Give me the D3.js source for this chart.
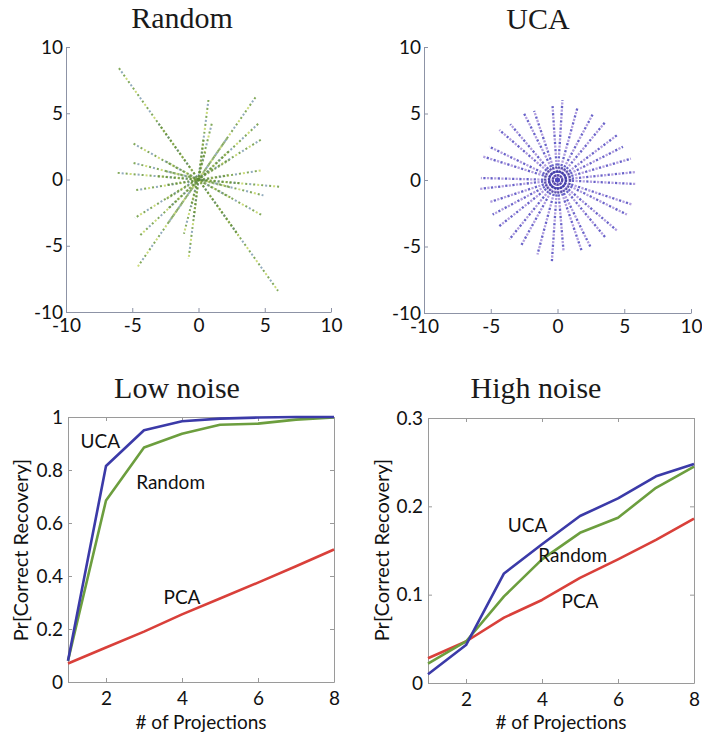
<!DOCTYPE html>
<html>
<head>
<meta charset="utf-8">
<script src="https://cdn.jsdelivr.net/npm/d3@7"></script>
<style>
  body { margin: 0; background: #fff; }
  svg { display: block; }
  .tick text { font-family: Lato, "Open Sans", sans-serif; fill: #111; }
</style>
</head>
<body>
<div id="fig"></div>
<script>
// scatter panels: spokes of sample points (endpoints)
var randomSpokes = [
  [-6.0, 8.4, 6.0, -8.4],
  [0.75, 6.0, -0.75, -6.0],
  [4.3, 6.2, -4.6, -6.6],
  [4.5, 4.2, -4.5, -4.3],
  [4.7, 3.0, -4.8, -2.9],
  [-4.9, 2.7, 4.8, -2.7],
  [-4.9, 1.25, 4.9, -1.2],
  [-6.1, 0.5, 6.2, -0.55],
  [-4.7, -0.8, 4.8, 0.7],
  [1.0, 4.2, -1.1, -4.1]
];
var ucaSpokes = [
  [0.37, 6.0], [1.5, 5.46], [2.67, 5.0], [3.6, 4.39], [4.5, 3.4], [4.9, 2.5],
  [5.5, 1.6], [5.86, 0.6], [5.86, -0.3], [5.6, -1.85], [5.2, -2.6], [4.5, -3.84],
  [3.6, -4.34], [2.5, -5.1], [1.8, -5.3], [0.45, -5.34], [-0.42, -6.1], [-1.5, -5.6],
  [-2.74, -4.96], [-3.6, -4.46], [-4.36, -3.47], [-4.86, -2.6], [-5.1, -1.67],
  [-5.86, -0.67], [-5.74, 0.15], [-5.6, 1.77], [-5.1, 2.5], [-4.36, 3.77],
  [-3.54, 4.2], [-2.5, 5.0], [-1.75, 5.2], [-0.37, 5.56]
];
var ucaRings = [0.35, 0.65, 0.95];
var scatterTicks = [-10, -5, 0, 5, 10];

// recovery curves
var projections = [1, 2, 3, 4, 5, 6, 7, 8];
var lowUCA    = [0.08, 0.815, 0.95, 0.984, 0.994, 0.998, 1.0, 1.0];
var lowRandom = [0.08, 0.685, 0.885, 0.937, 0.971, 0.975, 0.99, 0.998];
var lowPCA    = [0.07, 0.13, 0.19, 0.255, 0.315, 0.375, 0.437, 0.5];
var highUCA    = [0.01, 0.043, 0.124, 0.157, 0.189, 0.209, 0.234, 0.248];
var highRandom = [0.022, 0.047, 0.098, 0.14, 0.17, 0.187, 0.221, 0.245];
var highPCA    = [0.028, 0.047, 0.074, 0.094, 0.119, 0.14, 0.162, 0.186];
var seriesNames = ["UCA", "Random", "PCA"];
var lowTicksY = [0, 0.2, 0.4, 0.6, 0.8, 1];
var highTicksY = [0, 0.1, 0.2, 0.3];
var projTicks = [2, 4, 6, 8];
// label anchors in data units
var lowLabels = [[1.85, 0.91], [3.7, 0.755], [4.0, 0.32]];
var highLabels = [[3.62, 0.179], [4.81, 0.144], [5.0, 0.092]];

var colors = { UCA: "#3b3aa8", Random: "#6c9e3e", PCA: "#d9403a" };

// plain hyphen minus, like the original
var fmt = function(d) { return String(d); };

var W = 702, H = 735;
var svg = d3.select("#fig").append("svg")
  .attr("width", W)
  .attr("height", H);

function title(x, y, t) {
  svg.append("text")
    .attr("x", x).attr("y", y)
    .attr("text-anchor", "middle")
    .attr("font-family", "Liberation Serif, Times New Roman, serif")
    .style("font-size", "30px")
    .attr("fill", "#1a1a1a")
    .text(t);
}

function scatterAxes(x, y) {
  var g = svg.append("g");
  var ax = g.append("g")
    .attr("transform", "translate(0," + y.range()[0] + ")")
    .call(d3.axisBottom(x).tickValues(scatterTicks).tickFormat(fmt).tickSize(-4).tickSizeOuter(0).tickPadding(7));
  var ay = g.append("g")
    .attr("transform", "translate(" + x.range()[0] + ",0)")
    .call(d3.axisLeft(y).tickValues(scatterTicks).tickFormat(fmt).tickSize(-4).tickSizeOuter(0).tickPadding(3));
  [ax, ay].forEach(function(a) {
    a.select(".domain").attr("stroke", "#8d93a6");
    a.selectAll(".tick line").attr("stroke", "#8d93a6");
    a.selectAll(".tick text").style("font-size", "19px");
  });
}

// ---- Random scatter ----
var xr = d3.scaleLinear().domain([-10, 10]).range([66, 331]);
var yr = d3.scaleLinear().domain([-10, 10]).range([312, 47]);
title(182, 28, "Random");
scatterAxes(xr, yr);

var rg = svg.append("g");
var dotStyles = [
  { c: "#6d9b3f", dash: "2 6", off: 0 },
  { c: "#c3d665", dash: "2 14", off: 4 },
  { c: "#7f9db3", dash: "2 14", off: 12 }
];
dotStyles.forEach(function(s) {
  rg.selectAll(null)
    .data(randomSpokes)
    .enter()
    .append("line")
    .attr("x1", function(d) { return xr(d[0]); })
    .attr("y1", function(d) { return yr(d[1]); })
    .attr("x2", function(d) { return xr(d[2]); })
    .attr("y2", function(d) { return yr(d[3]); })
    .attr("stroke", s.c)
    .attr("stroke-width", 2)
    .attr("stroke-dasharray", s.dash)
    .attr("stroke-dashoffset", s.off)
    .attr("opacity", 0.85);
});
// denser cloud close to the origin
rg.selectAll(null)
  .data(randomSpokes)
  .enter()
  .append("line")
  .attr("x1", function(d) { return xr(d[0] * 0.5); })
  .attr("y1", function(d) { return yr(d[1] * 0.5); })
  .attr("x2", function(d) { return xr(d[2] * 0.5); })
  .attr("y2", function(d) { return yr(d[3] * 0.5); })
  .attr("stroke", "#5d8a32")
  .attr("stroke-width", 2.2)
  .attr("stroke-dasharray", "2 2")
  .attr("opacity", 0.65);

// ---- UCA scatter ----
var xu = d3.scaleLinear().domain([-10, 10]).range([424, 691]);
var yu = d3.scaleLinear().domain([-10, 10]).range([313, 47]);
title(538, 29, "UCA");
scatterAxes(xu, yu);

var ug = svg.append("g");
[{ c: "#5048c0", off: 0 }, { c: "#a690dc", off: 3.6 }].forEach(function(s) {
  ug.selectAll(null)
    .data(ucaSpokes)
    .enter()
    .append("line")
    .attr("x1", xu(0))
    .attr("y1", yu(0))
    .attr("x2", function(d) { return xu(d[0]); })
    .attr("y2", function(d) { return yu(d[1]); })
    .attr("stroke", s.c)
    .attr("stroke-width", 2.3)
    .attr("stroke-dasharray", "2.2 5")
    .attr("stroke-dashoffset", s.off)
    .attr("opacity", 0.85);
});
ug.selectAll(null)
  .data(ucaRings)
  .enter()
  .append("circle")
  .attr("cx", xu(0))
  .attr("cy", yu(0))
  .attr("r", function(d) { return xu(d) - xu(0); })
  .attr("fill", "none")
  .attr("stroke", "#3c3698")
  .attr("stroke-width", 2.2)
  .attr("stroke-dasharray", "2 1")
  .attr("opacity", 0.8);

// ---- recovery panels ----
function curvePanel(opt) {
  var x = d3.scaleLinear().domain([1, 8]).range(opt.xr);
  var y = d3.scaleLinear().domain(opt.yd).range(opt.yr);
  var g = svg.append("g");

  title(opt.tx, 398, opt.title);

  var axes = [
    g.append("g").attr("transform", "translate(0," + y.range()[0] + ")")
      .call(d3.axisBottom(x).tickValues(projTicks).tickFormat(fmt).tickSize(-4).tickSizeOuter(0).tickPadding(10)),
    g.append("g").attr("transform", "translate(" + x.range()[0] + ",0)")
      .call(d3.axisLeft(y).tickValues(opt.yticks).tickFormat(fmt).tickSize(-4).tickSizeOuter(0).tickPadding(5)),
    g.append("g").attr("transform", "translate(0," + y.range()[1] + ")")
      .call(d3.axisTop(x).tickValues(projTicks).tickSize(-4).tickSizeOuter(0).tickFormat("")),
    g.append("g").attr("transform", "translate(" + x.range()[1] + ",0)")
      .call(d3.axisRight(y).tickValues(opt.yticks).tickSize(-4).tickSizeOuter(0).tickFormat(""))
  ];
  axes.forEach(function(a) {
    a.select(".domain").attr("stroke", "#9a9a9a");
    a.selectAll(".tick line").attr("stroke", "#9a9a9a");
    a.selectAll(".tick text").style("font-size", "19px");
  });

  var line = d3.line()
    .x(function(d, i) { return x(projections[i]); })
    .y(function(d) { return y(d); });

  // draw PCA first so UCA ends up on top
  [[opt.pca, "PCA"], [opt.random, "Random"], [opt.uca, "UCA"]].forEach(function(s) {
    g.append("path")
      .datum(s[0])
      .attr("d", line)
      .attr("fill", "none")
      .attr("stroke", colors[s[1]])
      .attr("stroke-width", 2.6)
      .attr("stroke-linejoin", "round");
  });

  g.selectAll("text.lbl")
    .data(opt.labels)
    .enter()
    .append("text")
    .attr("class", "lbl")
    .attr("x", function(d) { return x(d[0]); })
    .attr("y", function(d) { return y(d[1]); })
    .attr("dy", "0.35em")
    .attr("text-anchor", "middle")
    .attr("font-family", "Lato, sans-serif")
    .style("font-size", "19px")
    .attr("fill", "#111")
    .text(function(d, i) { return seriesNames[i]; });

  svg.append("text")
    .attr("transform", "translate(" + opt.ylx + ",550) rotate(-90)")
    .attr("text-anchor", "middle")
    .attr("font-family", "Lato, sans-serif")
    .style("font-size", "20px")
    .attr("fill", "#111")
    .text("Pr[Correct Recovery]");

  svg.append("text")
    .attr("x", (x.range()[0] + x.range()[1]) / 2)
    .attr("y", 729)
    .attr("text-anchor", "middle")
    .attr("font-family", "Lato, sans-serif")
    .style("font-size", "19px")
    .attr("fill", "#111")
    .text("# of Projections");
}

curvePanel({
  title: "Low noise", tx: 177,
  xr: [68, 334], yd: [0, 1], yr: [682, 417], yticks: lowTicksY,
  uca: lowUCA, random: lowRandom, pca: lowPCA, labels: lowLabels, ylx: 28
});
curvePanel({
  title: "High noise", tx: 536,
  xr: [428, 694], yd: [0, 0.3], yr: [683, 418], yticks: highTicksY,
  uca: highUCA, random: highRandom, pca: highPCA, labels: highLabels, ylx: 389
});
</script>
</body>
</html>
